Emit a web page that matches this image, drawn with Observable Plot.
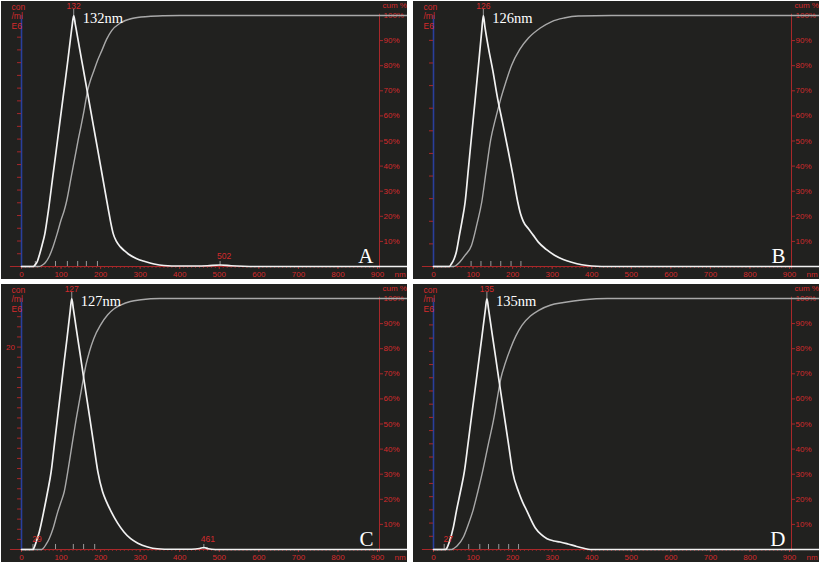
<!DOCTYPE html>
<html><head><meta charset="utf-8">
<script src="https://cdn.jsdelivr.net/npm/d3@7"></script>
<script src="https://cdn.jsdelivr.net/npm/@observablehq/plot@0.6"></script>
<style>
html,body{margin:0;padding:0;background:#fff;}
body{width:821px;height:564px;overflow:hidden;position:relative;}
.panel{position:absolute;width:406px;height:278px;background:#21211f;overflow:hidden;}
.panel svg{display:block;}
</style></head><body>
<div id="pA" class="panel" style="left:1px;top:1px"></div>
<div id="pB" class="panel" style="left:413px;top:1px"></div>
<div id="pC" class="panel" style="left:1px;top:284px"></div>
<div id="pD" class="panel" style="left:413px;top:284px"></div>
<script>
// ---- tick labels ----
const nmTicks = [0,100,200,300,400,500,600,700,800,900];
const pctTicks = [10,20,30,40,50,60,70,80,90,100];
const minorNm = d3.range(0, 910, 10);

// ---- Panel A (peak 132 nm) ----
const sizeA = [0,30,35,40,46,52,59,68,78,86,97,107,116,124,128,132,136,140,147,156,165,176,187,198,210,220,225,232,240,250,260,270,290,312,335,360,400,440,470,502,530,560,600,980];
const relA  = [0,0,0.008,0.02,0.05,0.085,0.13,0.223,0.344,0.441,0.575,0.697,0.806,0.91,0.96,1.0,0.965,0.93,0.867,0.788,0.709,0.612,0.515,0.418,0.311,0.223,0.18,0.13,0.10,0.078,0.063,0.05,0.032,0.02,0.01,0.004,0.002,0.002,0.003,0.006,0.003,0.001,0,0];
const cumSizeA = [0,45,52,60,70,80,90,100,108,114,126,138,144,150,158,167,175,183,192,203,215,228,250,279,320,360,400,980];
const cumA     = [0,0,0.5,1.5,4,8,13,18.5,22.3,26,36,46,51,55.5,62,70,74.5,78,82,86,90.5,94,97,98.8,99.6,99.9,100,100];
const markersA = [35,86,116,142,164,192,502];
const notesA = [{x:502,label:"502"}];

// ---- Panel B (peak 126 nm) ----
const sizeB = [0,40,45,52,58,65,72,80,88,95,105,116,122,126,130,139,150,162,175,189,200,213,220,227,240,252,265,285,306,328,349,375,400,450,980];
const relB  = [0,0,0.01,0.03,0.06,0.12,0.18,0.257,0.386,0.50,0.66,0.84,0.94,1.0,0.955,0.87,0.78,0.67,0.57,0.46,0.37,0.257,0.21,0.18,0.15,0.125,0.097,0.068,0.045,0.028,0.017,0.007,0.002,0,0];
const cumSizeB = [0,50,56,66,80,96,110,122,133,144.5,157,170,183,197,218,240,270,299,330,366,450,980];
const cumB     = [0,0,0.3,1.7,4.5,8.4,17,25.7,38,50.4,59,66.8,73.5,80,86.5,91,95,97.6,99,99.8,100,100];
const markersB = [95,120,145,170,196,221];
const notesB = [];

// ---- Panel C (peak 127 nm) ----
const sizeC = [0,29,32,36,45,56,66,75,84,93,102,108,115,123,127,131,138,149,159,172,182,193,205,215,227,243,259,276,294,319,343,380,430,450,461,472,490,980];
const relC  = [0,0,0.008,0.025,0.07,0.15,0.23,0.31,0.43,0.55,0.67,0.75,0.84,0.95,1.0,0.96,0.885,0.77,0.665,0.53,0.425,0.31,0.23,0.19,0.15,0.105,0.07,0.043,0.025,0.01,0.003,0.001,0.001,0.004,0.008,0.003,0,0];
const cumSizeC = [0,50,54,62,70,80,91.6,100,108,117,127,138,150.5,163,172,182.6,200,218,235,252,275,302,350,980];
const cumC     = [0,0,0.3,2,4.3,8.5,15,19,23,31,41,51.7,62.8,73.6,79,84,89.5,93.5,96,97.5,98.8,99.5,100,100];
const markersC = [29,86,131,157,185,461];
const notesC = [{x:29,label:"29"},{x:461,label:"461"}];

// ---- Panel D (peak 135 nm) ----
const sizeD = [0,30,34,40,50,58,68,78,88,97,110,122,131,135,139,148,157,165,182,191,200,215,225,236,257,272,287,305,320,340,362,380,396,980];
const relD  = [0,0,0.006,0.03,0.087,0.154,0.23,0.31,0.43,0.54,0.697,0.843,0.955,1.0,0.96,0.862,0.766,0.68,0.50,0.405,0.31,0.23,0.19,0.154,0.087,0.06,0.043,0.034,0.03,0.022,0.012,0.005,0,0];
const cumSizeD = [0,46,52,60,76,88,99.6,112,124,138,152,161,170,182,194,208,223.5,245,266,295,329,380,440,980];
const cumD     = [0,0,0.5,1.5,5.1,10,15.4,23,31,41.5,51.8,60,68,74.5,79.8,85,89.3,93,95.3,97.3,98.4,99.5,100,100];
const markersD = [27,89,117,139,165,190,215];
const notesD = [{x:27,label:"27"}];

// concentration axis (E6 particles/ml): peak value and last tick
const panels = [
  {id:"pA", letter:"A", peak:132, size:sizeA, rel:relA, cumSize:cumSizeA, cum:cumA, markers:markersA, notes:notesA, concPeak:19.7, concTickMax:18, concLabels:[]},
  {id:"pB", letter:"B", peak:126, size:sizeB, rel:relB, cumSize:cumSizeB, cum:cumB, markers:markersB, notes:notesB, concPeak:11.1, concTickMax:10, concLabels:[]},
  {id:"pC", letter:"C", peak:127, size:sizeC, rel:relC, cumSize:cumSizeC, cum:cumC, markers:markersC, notes:notesC, concPeak:24.8, concTickMax:23, concLabels:[20]},
  {id:"pD", letter:"D", peak:135, size:sizeD, rel:relD, cumSize:cumSizeD, cum:cumD, markers:markersD, notes:notesD, concPeak:19.0, concTickMax:17, concLabels:[]}
];

const RED_TX = "#d42a2c";
const RED_AX = "#a8282a";
const BLUE = "#2a3f9c";
const SANS = "Liberation Sans, Arial, sans-serif";
const SERIF = "Liberation Serif, Times New Roman, serif";

function makePanel(p) {
  const dist = p.size.map((x, i) => ({x, y: p.rel[i] * 100}));
  const cum = p.cumSize.map((x, i) => ({x, y: p.cum[i]}));
  const concTicks = d3.range(1, p.concTickMax + 1).map(k => k / p.concPeak * 100);
  const concLab = p.concLabels.map(v => ({v, y: v / p.concPeak * 100}));
  return Plot.plot({
    width: 406, height: 278,
    marginLeft: 20, marginRight: 28, marginTop: 14, marginBottom: 13,
    style: {background: "transparent", fontFamily: SANS},
    x: {domain: [0, 905], axis: null, label: null},
    y: {domain: [0, 100], axis: null, label: null},
    marks: [
      // x axis
      Plot.ruleY([0], {x1: -28, x2: 912, stroke: RED_AX, strokeWidth: 1}),
      Plot.ruleX(minorNm, {x: d => d, y1: 0, y2: -0.8, stroke: RED_AX, strokeWidth: 0.8}),
      Plot.axisX({ticks: nmTicks, label: null, tickSize: 3, tickPadding: 1.5, fontSize: 8, color: RED_TX, stroke: RED_AX}),
      // left concentration axis
      Plot.ruleX([0], {y1: 0, y2: 100, stroke: BLUE, strokeWidth: 1.6}),
      Plot.ruleY(concTicks, {x1: -10, x2: 0, stroke: RED_AX, strokeWidth: 1}),
      Plot.text(concLab, {y: "y", text: d => String(d.v), frameAnchor: "left", dx: -11, textAnchor: "middle", fill: RED_TX, fontSize: 8}),
      Plot.text(["con\n/ml\nE6"], {frameAnchor: "top-left", dx: -10, dy: -12, lineAnchor: "top", lineHeight: 1.1, textAnchor: "start", fill: RED_TX, fontSize: 8.5}),
      // right cumulative axis
      Plot.ruleX([905], {y1: -1, y2: 100.5, stroke: RED_AX, strokeWidth: 1}),
      Plot.axisY({anchor: "right", ticks: pctTicks, label: null, tickSize: 3, tickPadding: 1, tickFormat: d => d + "%", fontSize: 8, color: RED_TX, stroke: RED_AX}),
      Plot.text(["cum %"], {frameAnchor: "top-right", dx: 3, dy: -10.5, textAnchor: "start", lineAnchor: "middle", fill: RED_TX, fontSize: 8}),
      Plot.text(["nm"], {frameAnchor: "bottom-right", dx: 15, dy: 8, textAnchor: "start", lineAnchor: "middle", fill: RED_TX, fontSize: 8}),
      // markers
      Plot.ruleX(p.markers, {x: d => d, y1: 0, y2: 2, stroke: "#9a9a9a", strokeWidth: 1}),
      Plot.ruleX([p.peak], {x: d => d, y1: 100, y2: 102.5, stroke: "#9a9a9a", strokeWidth: 1}),
      // curves
      Plot.line(cum, {x: "x", y: "y", stroke: "#a9a9a9", strokeWidth: 1.4, curve: "monotone-x"}),
      Plot.line(dist, {x: "x", y: "y", stroke: "#f2f2f2", strokeWidth: 1.7, curve: "monotone-x"}),
      // labels
      Plot.text(p.notes, {x: "x", y: 0, text: "label", dx: 4, dy: -10, lineAnchor: "middle", fill: RED_TX, fontSize: 8.5}),
      Plot.text([p.peak], {x: d => d, text: d => String(d), frameAnchor: "top", dy: -9, lineAnchor: "middle", fill: RED_TX, fontSize: 8.5}),
      Plot.text([p.peak], {x: d => d, text: d => d + "nm", frameAnchor: "top", dx: 9, dy: 7, textAnchor: "start", lineAnchor: "bottom", fill: "#ffffff", fontSize: 14.5, fontFamily: SERIF}),
      Plot.text([p.letter], {frameAnchor: "bottom-right", dx: -6, dy: -4, textAnchor: "end", lineAnchor: "bottom", fill: "#ffffff", fontSize: 21, fontFamily: SERIF})
    ]
  });
}

for (const p of panels) {
  document.getElementById(p.id).appendChild(makePanel(p));
}
</script>
</body></html>
